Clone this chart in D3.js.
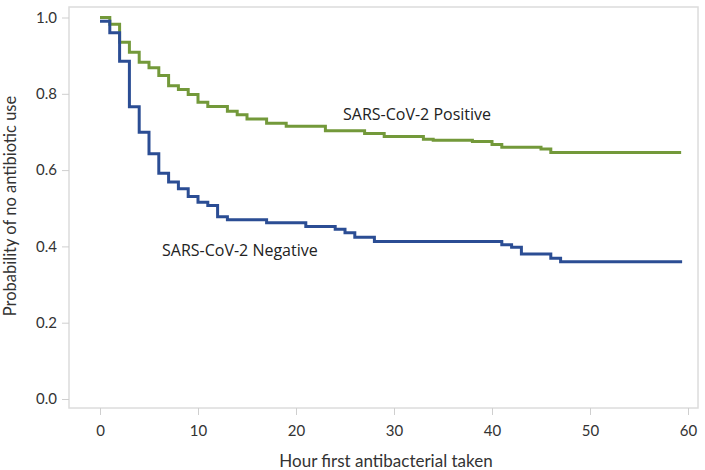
<!DOCTYPE html>
<html>
<head>
<meta charset="utf-8">
<script src="https://cdn.jsdelivr.net/npm/d3@7"></script>
<style>
  html, body { margin: 0; padding: 0; background: #fff; }
  svg { display: block; }
</style>
</head>
<body>
<div id="chart"></div>
<script>
const xTicks = [0, 10, 20, 30, 40, 50, 60];
const yTicks = [0.0, 0.2, 0.4, 0.6, 0.8, 1.0];

const positiveTimes  = [0, 1, 2, 3, 4, 5, 6, 7, 8, 9, 10, 11, 13, 14, 15, 17, 19, 23, 27, 29, 33, 34, 38, 40, 41, 45, 46, 59.3];
const positiveValues = [1.0, 0.982, 0.935, 0.909, 0.883, 0.868, 0.848, 0.821, 0.811, 0.798, 0.778, 0.767, 0.754, 0.745, 0.734, 0.723, 0.715, 0.703, 0.696, 0.688, 0.681, 0.678, 0.675, 0.667, 0.660, 0.655, 0.646, 0.646];

const negativeTimes  = [0, 1, 2, 3, 4, 5, 6, 7, 8, 9, 10, 11, 12, 13, 17, 21, 24, 25, 26, 28, 41, 42, 43, 46, 47, 59.4];
const negativeValues = [0.990, 0.960, 0.885, 0.766, 0.699, 0.643, 0.592, 0.569, 0.551, 0.531, 0.516, 0.507, 0.478, 0.470, 0.462, 0.452, 0.445, 0.436, 0.424, 0.413, 0.404, 0.398, 0.380, 0.369, 0.360, 0.360];

const seriesNames = ["SARS-CoV-2 Positive", "SARS-CoV-2 Negative"];
const xTitle = "Hour first antibacterial taken";
const yTitle = "Probability of no antibiotic use";

const W = 705, H = 470;
const frame = {left: 69, top: 7, right: 698, bottom: 408};

const svg = d3.select("#chart").append("svg").attr("width", W).attr("height", H);

const x = d3.scaleLinear().domain([0, 60]).range([100, 688]);
const y = d3.scaleLinear().domain([0, 1]).range([399, 17.5]);

// frame
svg.append("rect")
  .attr("x", frame.left).attr("y", frame.top)
  .attr("width", frame.right - frame.left).attr("height", frame.bottom - frame.top)
  .attr("fill", "none").attr("stroke", "#dcdcdc").attr("stroke-width", 1.5);

const tickFont = "Lato, 'Open Sans', sans-serif";

// x axis
const xAxis = svg.append("g")
  .attr("transform", `translate(0,${frame.bottom})`)
  .call(d3.axisBottom(x).tickValues(xTicks).tickFormat(d3.format("d")).tickSize(7).tickPadding(10));
xAxis.select(".domain").remove();
xAxis.selectAll(".tick line").attr("stroke", "#cfcfcf").attr("stroke-width", 1);
xAxis.selectAll(".tick text").attr("fill", "#333").style("font-family", tickFont).style("font-size", "15px");

// y axis
const yAxis = svg.append("g")
  .attr("transform", `translate(${frame.left},0)`)
  .call(d3.axisLeft(y).tickValues(yTicks).tickFormat(d3.format(".1f")).tickSize(7).tickPadding(5));
yAxis.select(".domain").remove();
yAxis.selectAll(".tick line").attr("stroke", "#cfcfcf").attr("stroke-width", 1);
yAxis.selectAll(".tick text").attr("fill", "#333").style("font-family", tickFont).style("font-size", "15px");

// titles
svg.append("text")
  .attr("x", 386).attr("y", 467)
  .attr("text-anchor", "middle")
  .style("font-family", tickFont).style("font-size", "17px").attr("fill", "#333")
  .text(xTitle);

svg.append("text")
  .attr("transform", "translate(16,206) rotate(-90)")
  .attr("text-anchor", "middle")
  .style("font-family", tickFont).style("font-size", "16.5px").attr("fill", "#333")
  .text(yTitle);

// curves
const line = d3.line().x(d => x(d[0])).y(d => y(d[1])).curve(d3.curveStepAfter);
const pos = positiveTimes.map((t, i) => [t, positiveValues[i]]);
const neg = negativeTimes.map((t, i) => [t, negativeValues[i]]);

svg.append("path").datum(pos).attr("d", line)
  .attr("fill", "none").attr("stroke", "#73993a").attr("stroke-width", 3);
svg.append("path").datum(neg).attr("d", line)
  .attr("fill", "none").attr("stroke", "#2b4d94").attr("stroke-width", 3);

// labels
const labelFont = "'Open Sans', 'Noto Sans', sans-serif";
svg.append("text").attr("x", 343).attr("y", 120)
  .style("font-family", labelFont).style("font-size", "16px").attr("fill", "#222")
  .text(seriesNames[0]);
svg.append("text").attr("x", 162).attr("y", 256)
  .style("font-family", labelFont).style("font-size", "16px").attr("fill", "#222")
  .text(seriesNames[1]);
</script>
</body>
</html>
